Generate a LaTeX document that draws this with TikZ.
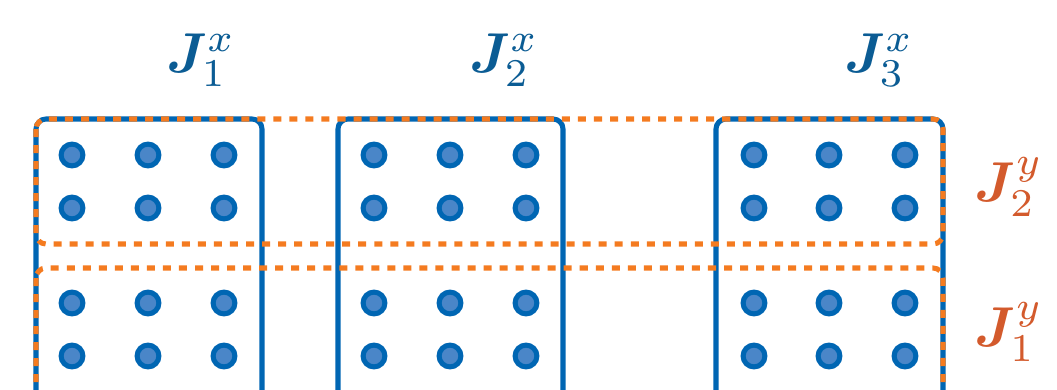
\documentclass[tikz,border=0pt]{standalone}
\usepackage{amsmath}
\usepackage{bm}
\usepackage{xcolor}
\usepackage{tikz}
\usetikzlibrary{positioning}
\definecolor{boxblue}{HTML}{0066B3}
\definecolor{dotblue}{HTML}{4A86C8}
\definecolor{labblue}{HTML}{0B5C94}
\definecolor{dashorange}{HTML}{F47B20}
\definecolor{laborange}{HTML}{D35A2C}
\tikzset{
  groupbox/.style={draw=boxblue, line width=3.6pt, rounded corners=0.25cm},
  rowbox/.style={draw=dashorange, line width=3.6pt, dash pattern=on 5.7pt off 5.7pt, rounded corners=0.25cm},
  qubit/.style={circle, draw=boxblue, fill=dotblue, line width=3.6pt, inner sep=0pt, minimum size=15.5pt},
  xlab/.style={text=labblue, scale=4.0},
  ylab/.style={text=laborange, scale=4.0}
}

\begin{document}
\begin{tikzpicture}[x=0.025cm, y=-0.025cm]
\useasboundingbox (0,0) rectangle (1057,389);
\clip (0,0) rectangle (1057,389);
% Column groups (run past the lower edge)
\draw[groupbox] (36,119) rectangle (262,440);
\draw[groupbox] (338,119) rectangle (563,440);
\draw[groupbox] (716,119) rectangle (943,440);
% Qubits, three per group and four rows
\foreach \cx/\c in {72/1, 148/2, 224/3, 374/4, 450/5, 526/6, 754/7, 829/8, 905/9}
  \foreach \ry/\r in {155/1, 208/2, 303/3, 356/4}
    \node[qubit] (q-\r-\c) at (\cx,\ry) {};
% Row groups (dashed, on top)
\draw[rowbox] (36,119) rectangle (943,244);
\draw[rowbox] (36,268) rectangle (943,450);
% Labels
\node[xlab] (jx1) at (201,60) {$\bm{J}_1^x$};
\node[xlab] (jx2) at (504,60) {$\bm{J}_2^x$};
\node[xlab] (jx3) at (879,60) {$\bm{J}_3^x$};
\node[ylab] (jy2) at (1009,187) {$\bm{J}_2^y$};
\node[ylab] (jy1) at (1009,332) {$\bm{J}_1^y$};
\end{tikzpicture}
\end{document}
